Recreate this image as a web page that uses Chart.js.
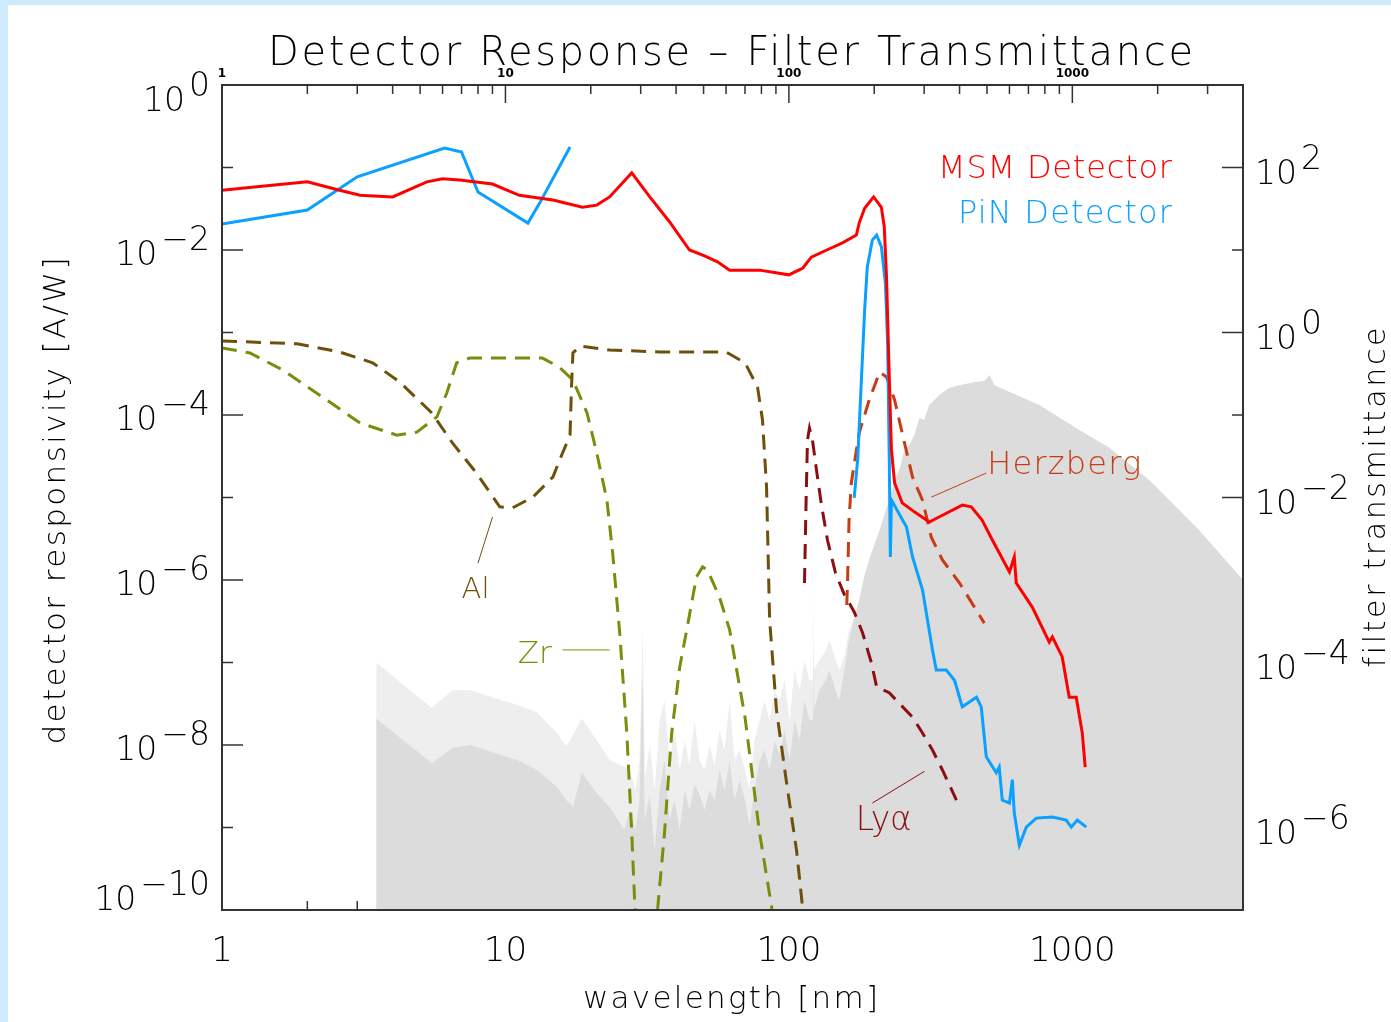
<!DOCTYPE html>
<html>
<head>
<meta charset="utf-8">
<title>Detector Response - Filter Transmittance</title>
<script src="https://cdn.jsdelivr.net/npm/chart.js@4.4.1/dist/chart.umd.min.js"></script>
<style>
  html, body { margin: 0; padding: 0; background: #fff; }
  canvas { display: block; }
</style>
</head>
<body>
<canvas id="chart" width="1391" height="1022"></canvas>
<script>
// axis labels
const xLabels = [1, 10, 100, 1000];
const leftExps = [0, -2, -4, -6, -8, -10];
const rightExps = [2, 0, -2, -4, -6];

// MSM detector responsivity [A/W] vs wavelength [nm]
const msmWave = [1, 1.44, 2, 2.6, 3.07, 4, 5.28, 6, 6.9, 9,
  11.2, 14.7, 18.7, 21, 23.3, 27.9, 32.3, 37.9, 44.6, 50.4,
  56, 61.8, 78.8, 100, 112, 120, 136, 154.5, 173, 177,
  185, 199, 212, 217, 221, 226, 230, 236, 251, 277,
  313, 348, 409, 440, 481, 522, 600, 624, 634, 722,
  829, 850, 921, 975, 1032, 1084, 1110];
const msmResp = [5.3e-2, 6.0e-2, 6.7e-2, 5.3e-2, 4.6e-2, 4.4e-2, 6.7e-2, 7.3e-2, 7.05e-2, 6.3e-2,
  4.6e-2, 4.04e-2, 3.3e-2, 3.5e-2, 4.4e-2, 8.6e-2, 4.4e-2, 2.2e-2, 1.0e-2, 8.5e-3,
  7.2e-3, 5.7e-3, 5.7e-3, 5.0e-3, 6.05e-3, 8.2e-3, 1.0e-2, 1.22e-2, 1.52e-2, 2.12e-2,
  3.2e-2, 4.4e-2, 3.3e-2, 1.9e-2, 4.7e-3, 2.9e-4, 3.8e-5, 1.5e-5, 8.6e-6, 6.7e-6,
  5.05e-6, 6.1e-6, 8.1e-6, 7.7e-6, 5.3e-6, 3.05e-6, 1.25e-6, 1.9e-6, 9.2e-7, 4.7e-7,
  1.77e-7, 2.04e-7, 1.17e-7, 3.8e-8, 3.8e-8, 1.4e-8, 5.4e-9];

// PiN detector responsivity [A/W] (null = no data between the two bands)
const pinWave = [1, 2, 3, 6.1, 7, 8, 12, 13.2, 16.9, 30,
  170, 175, 180, 185, 189, 197, 204, 212, 219, 223,
  226, 228, 230, 260, 273, 296, 321, 331, 359, 384,
  409, 459, 477, 497, 539, 552, 566, 600, 614, 624,
  650, 688, 746, 850, 951, 991, 1041, 1120];
const pinResp = [2.07e-2, 3.05e-2, 7.7e-2, 0.172, 0.154, 5.05e-2, 2.12e-2, 3.7e-2, 0.177, null,
  9.9e-6, 3.0e-5, 2.44e-4, 1.87e-3, 6.2e-3, 1.32e-2, 1.52e-2, 1.09e-2, 4.0e-3, 7.5e-4,
  2.85e-5, 1.9e-6, 9.3e-6, 4.4e-6, 1.9e-6, 7.6e-7, 1.42e-7, 8.1e-8, 8.1e-8, 6.1e-8,
  2.9e-8, 3.8e-8, 2.9e-8, 7.2e-9, 4.6e-9, 5.4e-9, 2.15e-9, 1.98e-9, 3.8e-9, 1.5e-9,
  6.1e-10, 1.01e-9, 1.3e-9, 1.34e-9, 1.23e-9, 1.01e-9, 1.23e-9, 1.01e-9];

// filter transmittances
const alWave = [1, 1.84, 2.6, 3.4, 4.24, 5.5, 6.5, 7.9, 9.55, 10.6,
  12.5, 14.7, 15.9, 16.9, 17.1, 17.3, 18.3, 23.3, 35, 60,
  70, 77.5, 80.7, 83.4, 85.5, 90.4, 98.1, 106.4, 111.7, 115];
const alTrans = [0.79, 0.73, 0.58, 0.43, 0.25, 0.106, 0.0458, 0.0198, 7.7e-3, 7.5e-3,
  1.01e-2, 1.77e-2, 3.46e-2, 5.7e-2, 0.218, 0.565, 0.685, 0.614, 0.58, 0.58,
  0.43, 0.218, 0.087, 1.34e-2, 3.3e-4, 2.65e-5, 3.5e-6, 5.3e-7, 1.09e-7, 3e-8];

const zrWave = [1, 1.255, 1.64, 2.34, 3.07, 4.14, 4.87, 5.73, 6.21, 6.73,
  7.48, 13.5, 15.5, 17.3, 19.4, 21.0, 22.8, 23.9, 25.3, 26.8,
  27.9, 28.6, 31.2, 34.4, 36.4, 38.6, 41.2, 43.6, 47.2, 49.6,
  51.6, 56.9, 61.8, 70, 78.8, 86.9, 90];
const zrTrans = [0.65, 0.565, 0.351, 0.152, 0.080, 0.057, 0.062, 0.095, 0.185, 0.43,
  0.49, 0.49, 0.38, 0.265, 0.106, 0.0346, 9.3e-3, 2.1e-3, 2.28e-4, 1.4e-5,
  8.6e-7, 1.15e-7, 1e-8, 1.0e-7, 8.6e-7, 1.4e-5, 8.8e-5, 2.48e-4, 1.09e-3, 1.44e-3,
  1.32e-3, 6.2e-4, 2.48e-4, 2.18e-5, 8.6e-7, 1.09e-7, 3e-8];

const hzWave = [160, 161, 163, 166, 172, 177, 192, 209, 221, 236, 251, 273, 296, 318, 348, 400, 489];
const hzTrans = [4.98e-4, 9.2e-4, 5.3e-3, 0.015, 0.0327, 0.0605, 0.152, 0.332, 0.289, 0.152,
  0.0605, 0.0177, 9.3e-3, 3.3e-3, 1.75e-3, 9.2e-4, 3.0e-4];

const lyWave = [113.5, 115, 116.3, 118.2, 121.1, 125.1, 130.3, 136.8, 146, 157,
  163, 170, 182, 195.5, 204, 226, 245, 273, 296, 321, 348, 390];
const lyTrans = [9.2e-4, 9.3e-3, 0.0498, 0.0695, 0.0498, 0.0216, 8.1e-3, 3.05e-3, 1.22e-3, 6.6e-4,
  5.3e-4, 4.1e-4, 2.28e-4, 9.9e-5, 5.05e-5, 4.3e-5, 3.2e-5, 2.18e-5, 1.4e-5, 8.7e-6, 4.98e-6, 2.15e-6];

// solar spectrum (arbitrary units, shaded background)
const solarWave = [3.5, 5.5, 6.5, 7.5, 11.0, 12.9, 15.2, 16.4, 17.3, 18.6,
  21.0, 23.3, 26.3, 27.4, 28.8, 29.7, 30.5, 31.0, 32.3, 33.6,
  35.0, 36.4, 37.9, 39.5, 41.2, 42.9, 44.6, 46.5, 48.4, 50.4,
  52.5, 54.7, 56.9, 59.3, 61.8, 64.3, 67, 70, 72.6, 75.6,
  78.8, 82, 85.5, 89, 92.7, 96.5, 100.5, 104.7, 109, 113.5,
  118, 120.8, 121.6, 122.4, 128.2, 135, 139, 146, 150.7, 157,
  163, 170, 177, 185, 192, 200, 209, 217, 226, 236,
  245, 256, 266, 277, 289, 300, 313, 340, 368, 400,
  451, 489, 510, 531, 600, 764, 1057, 1349, 1866, 2801,
  4000];
const solarLow = [2.1e-8, 6.0e-9, 9.2e-9, 1.0e-8, 6.6e-9, 5.0e-9, 3.1e-9, 2.15e-9, 1.77e-9, 4.6e-9,
  2.6e-9, 1.77e-9, 9.3e-10, 1.63e-9, 9.3e-10, 2.15e-9, 7.5e-8, 1.23e-9, 2.48e-9, 5.3e-10,
  2.85e-9, 6.6e-9, 1.23e-9, 2.15e-9, 9.3e-10, 2.85e-9, 1.63e-9, 3.3e-9, 2.48e-9, 1.63e-9,
  2.85e-9, 2.15e-9, 5.0e-9, 2.85e-9, 6.6e-9, 2.15e-9, 3.8e-9, 2.15e-9, 1.07e-9, 2.85e-9,
  6.6e-9, 8.7e-9, 5.0e-9, 1.15e-8, 7.6e-9, 1.52e-8, 6.6e-9, 2.0e-8, 1.15e-8, 3.5e-8,
  2.0e-8, 2.0e-8, 1.87e-7, 2.65e-8, 4.6e-8, 6.1e-8, 8.1e-8, 4.6e-8, 3.5e-8, 8.1e-8,
  1.87e-7, 3.46e-7, 5.7e-7, 1.15e-6, 1.75e-6, 2.65e-6, 4.0e-6, 6.1e-6, 9.3e-6, 1.63e-5,
  2.15e-5, 3.8e-5, 4.3e-5, 5.7e-5, 9.2e-5, 8.7e-5, 1.32e-4, 1.75e-4, 2.12e-4, 2.3e-4,
  2.5e-4, 2.58e-4, 3.05e-4, 2.3e-4, 1.9e-4, 1.32e-4, 6.6e-5, 4.0e-5, 1.63e-5, 4.0e-6,
  1.0e-6];
const solarHigh = [1.0e-7, 2.8e-8, 4.6e-8, 4.6e-8, 3.05e-8, 2.5e-8, 1.4e-8, 9.5e-9, 1.32e-8, 2.1e-8,
  1.15e-8, 6.6e-9, 5.4e-9, 5.0e-9, 2.85e-9, 6.6e-9, 2.7e-7, 3.8e-9, 1.0e-8, 2.85e-9,
  2.0e-8, 3.5e-8, 6.6e-9, 1.52e-8, 5.0e-9, 1.15e-8, 5.7e-9, 2.0e-8, 6.6e-9, 5.0e-9,
  1.0e-8, 5.7e-9, 1.52e-8, 8.7e-9, 3.5e-8, 6.6e-9, 8.7e-9, 5.0e-9, 2.85e-9, 1.15e-8,
  2.0e-8, 3.5e-8, 2.0e-8, 4.6e-8, 3.5e-8, 6.1e-8, 2.0e-8, 8.1e-8, 4.6e-8, 1.07e-7,
  6.1e-8, 6.1e-8, 1.0e-6, 8.1e-8, 1.07e-7, 1.42e-7, 1.87e-7, 1.07e-7, 8.1e-8, 1.2e-7,
  2.5e-7, 3.46e-7, 5.7e-7, 1.15e-6, 1.75e-6, 2.65e-6, 4.0e-6, 6.1e-6, 9.3e-6, 1.63e-5,
  2.15e-5, 3.8e-5, 4.3e-5, 5.7e-5, 9.2e-5, 8.7e-5, 1.32e-4, 1.75e-4, 2.12e-4, 2.3e-4,
  2.5e-4, 2.58e-4, 3.05e-4, 2.3e-4, 1.9e-4, 1.32e-4, 6.6e-5, 4.0e-5, 1.63e-5, 4.0e-6,
  1.0e-6];

// colours
const axisColor = '#333333';
const msmColor = '#ff0000';
const pinColor = '#0aa0ff';
const alColor = '#6e500a';
const zrColor = '#7d8c0a';
const hzColor = '#c83c14';
const lyColor = '#8c0f0f';
const FONT = '"DejaVu Sans", "Liberation Sans", sans-serif';

// curve labels, anchored in data coordinates of the right axis
const notes = [
  { text: 'Al', color: alColor, line: [[9.0, 5.8e-3], [8.0, 1.6e-3]], at: [7.0, 6.05e-4], size: 29, width: 28 },
  { text: 'Zr', color: zrColor, line: [[15.9, 1.42e-4], [23.3, 1.42e-4]], at: [11.05, 9.9e-5], size: 31, width: 34 },
  { text: 'Herzberg', color: hzColor, line: [[318, 1.01e-2], [497, 1.98e-2]], at: [501, 1.93e-2], size: 32, width: 154 },
  { text: 'Ly\u03b1', color: lyColor, line: [[197, 1.98e-6], [301, 4.8e-6]], at: [172, 9.3e-7], size: 33, width: 56 }
];

const pts = (xs, ys) => xs.map((x, i) => ({ x: x, y: ys[i] }));

// draw text stretched to a given width with letter spacing (airy plot font look)
function fitText(ctx, text, x, y, width, size, color) {
  ctx.font = '200 ' + size + 'px ' + FONT;
  ctx.fillStyle = color;
  ctx.textAlign = 'left';
  ctx.textBaseline = 'alphabetic';
  const natural = ctx.measureText(text).width;
  if ('letterSpacing' in ctx && text.length > 1) {
    ctx.letterSpacing = ((width - natural) / (text.length - 1)) + 'px';
    ctx.fillText(text, x, y);
    ctx.letterSpacing = '0px';
  } else {
    ctx.save();
    ctx.translate(x, y);
    ctx.scale(width / natural, 1);
    ctx.fillText(text, 0, 0);
    ctx.restore();
  }
}

function drawPower(ctx, exp, x, yMid, alignRight) {
  const size = 33;
  const base = '10';
  const sup = exp < 0 ? '\u2212' + Math.abs(exp) : String(exp);
  ctx.font = '200 ' + size + 'px ' + FONT;
  ctx.fillStyle = '#000';
  ctx.textAlign = 'left';
  ctx.textBaseline = 'alphabetic';
  const wb = ctx.measureText(base).width;
  const ws = ctx.measureText(sup).width;
  const left = alignRight ? x - wb - 4 - ws : x;
  const baseY = yMid + size * 0.365;
  ctx.fillText(base, left, baseY);
  ctx.fillText(sup, left + wb + 4, baseY - 15);
}

const decorations = {
  id: 'decorations',
  beforeDraw(chart) {
    const ctx = chart.ctx;
    ctx.save();
    ctx.fillStyle = '#ffffff';
    ctx.fillRect(0, 0, chart.width, chart.height);
    ctx.fillStyle = '#cdebfc';
    ctx.fillRect(0, 0, chart.width, 5);
    ctx.fillRect(0, 0, 8, chart.height);
    ctx.restore();
  },
  beforeDatasetsDraw(chart) {
    // inward tick marks, drawn under the shaded spectrum like the original
    const { ctx, chartArea: a, scales } = chart;
    ctx.save();
    ctx.strokeStyle = axisColor;
    ctx.lineWidth = 1.5;
    ctx.beginPath();
    for (let d = 1; d <= 1000; d *= 10) {
      for (let m = 1; m <= 9; m++) {
        const v = d * m;
        if (v > scales.x.max) break;
        const px = scales.x.getPixelForValue(v);
        const len = m === 1 ? 18 : 9;
        ctx.moveTo(px, a.bottom); ctx.lineTo(px, a.bottom - len);
        ctx.moveTo(px, a.top); ctx.lineTo(px, a.top + len);
      }
    }
    for (let e = 0; e >= -10; e--) {
      const py = scales.y.getPixelForValue(Math.pow(10, e));
      const len = e % 2 === 0 ? 21 : 11;
      ctx.moveTo(a.left, py); ctx.lineTo(a.left + len, py);
    }
    for (let e = 3; e >= -7; e--) {
      const py = scales.y2.getPixelForValue(Math.pow(10, e));
      const len = e % 2 === 0 ? 21 : 11;
      ctx.moveTo(a.right, py); ctx.lineTo(a.right - len, py);
    }
    ctx.stroke();
    ctx.restore();
  },
  afterDatasetsDraw(chart) {
    const { ctx, chartArea: a, scales } = chart;
    ctx.save();
    ctx.strokeStyle = axisColor;
    ctx.lineWidth = 2;
    ctx.strokeRect(a.left, a.top, a.right - a.left, a.bottom - a.top);

    // y tick labels with raised exponents
    leftExps.forEach(e => {
      const py = scales.y.getPixelForValue(Math.pow(10, e));
      const mid = Math.min(Math.max(py + 3, a.top + 14), a.bottom - 12);
      drawPower(ctx, e, a.left - 12, mid, true);
    });
    rightExps.forEach(e => {
      const py = scales.y2.getPixelForValue(Math.pow(10, e));
      drawPower(ctx, e, a.right + 12, py + 4, false);
    });

    // title
    fitText(ctx, 'Detector Response \u2013 Filter Transmittance', 268, 65, 925, 40, '#000');

    // axis titles
    const midY = (a.top + a.bottom) / 2;
    ctx.save();
    ctx.translate(a.left - 157, midY + 4);
    ctx.rotate(-Math.PI / 2);
    fitText(ctx, 'detector responsivity [A/W]', -243, 0, 487, 31, '#000');
    ctx.restore();

    ctx.save();
    ctx.translate(a.right + 142, midY);
    ctx.rotate(-Math.PI / 2);
    fitText(ctx, 'filter transmittance', -170, 0, 340, 30, '#000');
    ctx.restore();

    fitText(ctx, 'wavelength [nm]', 583, a.bottom + 98, 295, 31, '#000');

    // legend
    fitText(ctx, 'MSM Detector', a.right - 71 - 234, a.top + 93, 234, 32, msmColor);
    fitText(ctx, 'PiN Detector', a.right - 71 - 214, a.top + 138, 214, 32, pinColor);

    // curve labels with leader lines
    notes.forEach(n => {
      const x = v => scales.x.getPixelForValue(v);
      const y = v => scales.y2.getPixelForValue(v);
      ctx.strokeStyle = n.color;
      ctx.lineWidth = 1;
      ctx.beginPath();
      ctx.moveTo(x(n.line[0][0]), y(n.line[0][1]));
      ctx.lineTo(x(n.line[1][0]), y(n.line[1][1]));
      ctx.stroke();
      fitText(ctx, n.text, x(n.at[0]), y(n.at[1]), n.width, n.size, n.color);
    });
    ctx.restore();
  }
};

const dashed = [15, 9];

new Chart(document.getElementById('chart').getContext('2d'), {
  type: 'line',
  data: {
    datasets: [
      { label: 'MSM Detector', data: pts(msmWave, msmResp), yAxisID: 'y', borderColor: msmColor, borderWidth: 3, order: 1 },
      { label: 'PiN Detector', data: pts(pinWave, pinResp), yAxisID: 'y', borderColor: pinColor, borderWidth: 3, order: 2 },
      { label: 'Herzberg', data: pts(hzWave, hzTrans), yAxisID: 'y2', borderColor: hzColor, borderWidth: 3, borderDash: dashed, order: 3, clip: 0 },
      { label: 'Ly\u03b1', data: pts(lyWave, lyTrans), yAxisID: 'y2', borderColor: lyColor, borderWidth: 3, borderDash: dashed, order: 4, clip: 0 },
      { label: 'Al', data: pts(alWave, alTrans), yAxisID: 'y2', borderColor: alColor, borderWidth: 3, borderDash: dashed, order: 5, clip: 0 },
      { label: 'Zr', data: pts(zrWave, zrTrans), yAxisID: 'y2', borderColor: zrColor, borderWidth: 3, borderDash: dashed, order: 6, clip: 0 },
      { label: 'solar spectrum (low)', data: pts(solarWave, solarLow), yAxisID: 'y', borderColor: 'rgba(0,0,0,0)', borderWidth: 0, backgroundColor: '#dcdcdc', fill: 'start', order: 10, clip: 0 },
      { label: 'solar spectrum (high)', data: pts(solarWave, solarHigh), yAxisID: 'y', borderColor: 'rgba(0,0,0,0)', borderWidth: 0, backgroundColor: '#eeeeee', fill: 'start', order: 11, clip: 0 }
    ]
  },
  options: {
    responsive: false,
    animation: false,
    devicePixelRatio: 1,
    layout: { padding: 0 },
    elements: { point: { radius: 0 }, line: { tension: 0 } },
    plugins: {
      legend: { display: false },
      tooltip: { enabled: false },
      title: { display: false }
    },
    scales: {
      x: {
        type: 'logarithmic', position: 'bottom', min: 1, max: 4000,
        afterFit: s => { s.height = 112; },
        afterBuildTicks: s => { s.ticks = xLabels.map(v => ({ value: v })); },
        grid: { display: false, drawTicks: false },
        border: { display: true, color: axisColor, width: 2 },
        ticks: { autoSkip: false, maxRotation: 0, padding: 22, color: '#000',
          font: { family: FONT, size: 34, weight: '200' }, callback: v => String(v) }
      },
      x2: {
        type: 'logarithmic', position: 'top', min: 1, max: 4000,
        afterFit: s => { s.height = 85; },
        afterBuildTicks: s => { s.ticks = xLabels.map(v => ({ value: v })); },
        grid: { display: false, drawTicks: false },
        border: { display: true, color: axisColor, width: 2 },
        ticks: { autoSkip: false, maxRotation: 0, padding: 4, color: '#000',
          font: { family: FONT, size: 12, weight: 'bold' }, callback: v => String(v) }
      },
      y: {
        type: 'logarithmic', position: 'left', min: 1e-10, max: 1,
        afterFit: s => { s.width = 222; },
        grid: { display: false, drawTicks: false },
        border: { display: true, color: axisColor, width: 2 },
        ticks: { display: false }
      },
      y2: {
        type: 'logarithmic', position: 'right', min: 1e-7, max: 1e3,
        afterFit: s => { s.width = 148; },
        grid: { display: false, drawTicks: false },
        border: { display: true, color: axisColor, width: 2 },
        ticks: { display: false }
      }
    }
  },
  plugins: [decorations]
});
</script>
</body>
</html>
